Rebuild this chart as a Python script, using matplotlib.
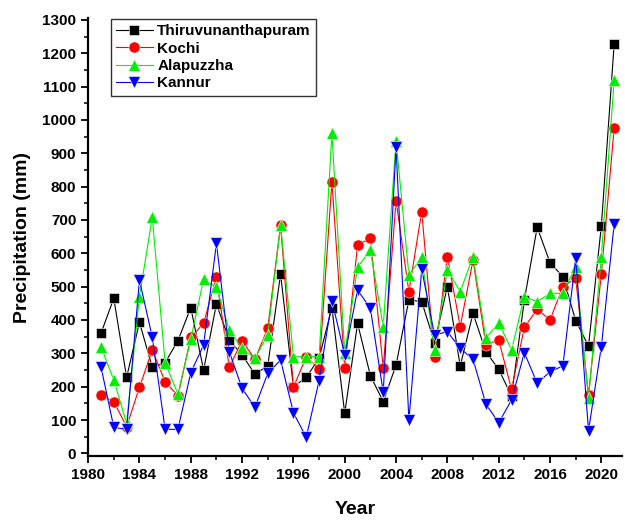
import numpy as np
import matplotlib.pyplot as plt
from matplotlib.ticker import MultipleLocator

# ==========================================
# DATOS DE PRECIPITACIÓN (mm)
# ==========================================

years = list(range(1981, 2022))

thiruvananthapuram = [360, 465, 228, 393, 258, 272, 338, 437, 250, 448,
                      340, 295, 238, 262, 538, 200, 228, 285, 437, 120,
                      390, 233, 155, 265, 460, 455, 332, 500, 262, 420,
                      305, 252, 172, 460, 678, 572, 530, 398, 322, 682,
                      1228]

kochi = [175, 155, 80, 198, 310, 215, 172, 348, 390, 530,
         258, 338, 282, 375, 685, 198, 290, 253, 815, 255,
         625, 645, 255, 758, 485, 725, 288, 590, 380, 580,
         325, 340, 192, 378, 432, 400, 500, 525, 175, 538,
         975]

alapuzzha = [320, 220, 90, 470, 708, 272, 178, 342, 522, 498,
             370, 315, 285, 355, 685, 290, 290, 290, 960, 300,
             558, 610, 380, 938, 535, 588, 310, 550, 485, 590,
             345, 392, 310, 470, 455, 480, 480, 560, 165, 590,
             1120]

kannur = [260, 78, 72, 520, 348, 72, 72, 242, 325, 630,
          305, 195, 138, 240, 280, 122, 48, 218, 458, 295,
          490, 435, 183, 918, 100, 552, 355, 365, 315, 282,
          148, 92, 160, 302, 210, 245, 262, 585, 68, 320,
          688]

# ==========================================
# GRÁFICA
# ==========================================

plt.rcParams["font.family"] = "Liberation Sans"
plt.rcParams["font.weight"] = "bold"

fig = plt.figure(figsize=(6.25, 5.2), dpi=100)
ax = fig.add_axes([0.141, 0.123, 0.854, 0.842])

series = [
    (thiruvananthapuram, "Thiruvunanthapuram", "black", "s", 7),
    (kochi, "Kochi", "red", "o", 8),
    (alapuzzha, "Alapuzzha", "#00ee00", "^", 8.5),
    (kannur, "Kannur", "blue", "v", 8.5),
]

for valores, nombre, color, marca, tam in series:
    ax.plot(
        years,
        valores,
        color=color,
        linewidth=0.8,
        marker=marca,
        markersize=tam,
        markeredgecolor="white",
        markeredgewidth=0.4,
        label=nombre
    )

ax.set_xlim(1980, 2021.6)
ax.set_ylim(-8, 1305)

ax.xaxis.set_major_locator(MultipleLocator(4))
ax.xaxis.set_minor_locator(MultipleLocator(2))
ax.yaxis.set_major_locator(MultipleLocator(100))
ax.yaxis.set_minor_locator(MultipleLocator(50))

ax.spines["top"].set_visible(False)
ax.spines["right"].set_visible(False)
ax.spines["left"].set_linewidth(1.6)
ax.spines["bottom"].set_linewidth(1.6)

ax.tick_params(which="major", direction="out", length=5, width=1.3,
               labelsize=11)
ax.tick_params(which="minor", direction="out", length=3, width=1.1)

for lbl in ax.get_xticklabels() + ax.get_yticklabels():
    lbl.set_fontweight("bold")

ax.set_xlabel("Year", fontsize=14, fontweight="bold", labelpad=14)
ax.set_ylabel("Precipitation (mm)", fontsize=14, fontweight="bold",
              labelpad=8)

leg = ax.legend(
    loc="upper left",
    bbox_to_anchor=(0.028, 1.016),
    fontsize=11,
    frameon=True,
    fancybox=False,
    edgecolor="black",
    borderpad=0.35,
    labelspacing=0.22,
    handlelength=2.4,
    handletextpad=0.3
)
leg.get_frame().set_linewidth(1.0)
for t in leg.get_texts():
    t.set_fontweight("bold")

plt.savefig("out.png", dpi=100)
